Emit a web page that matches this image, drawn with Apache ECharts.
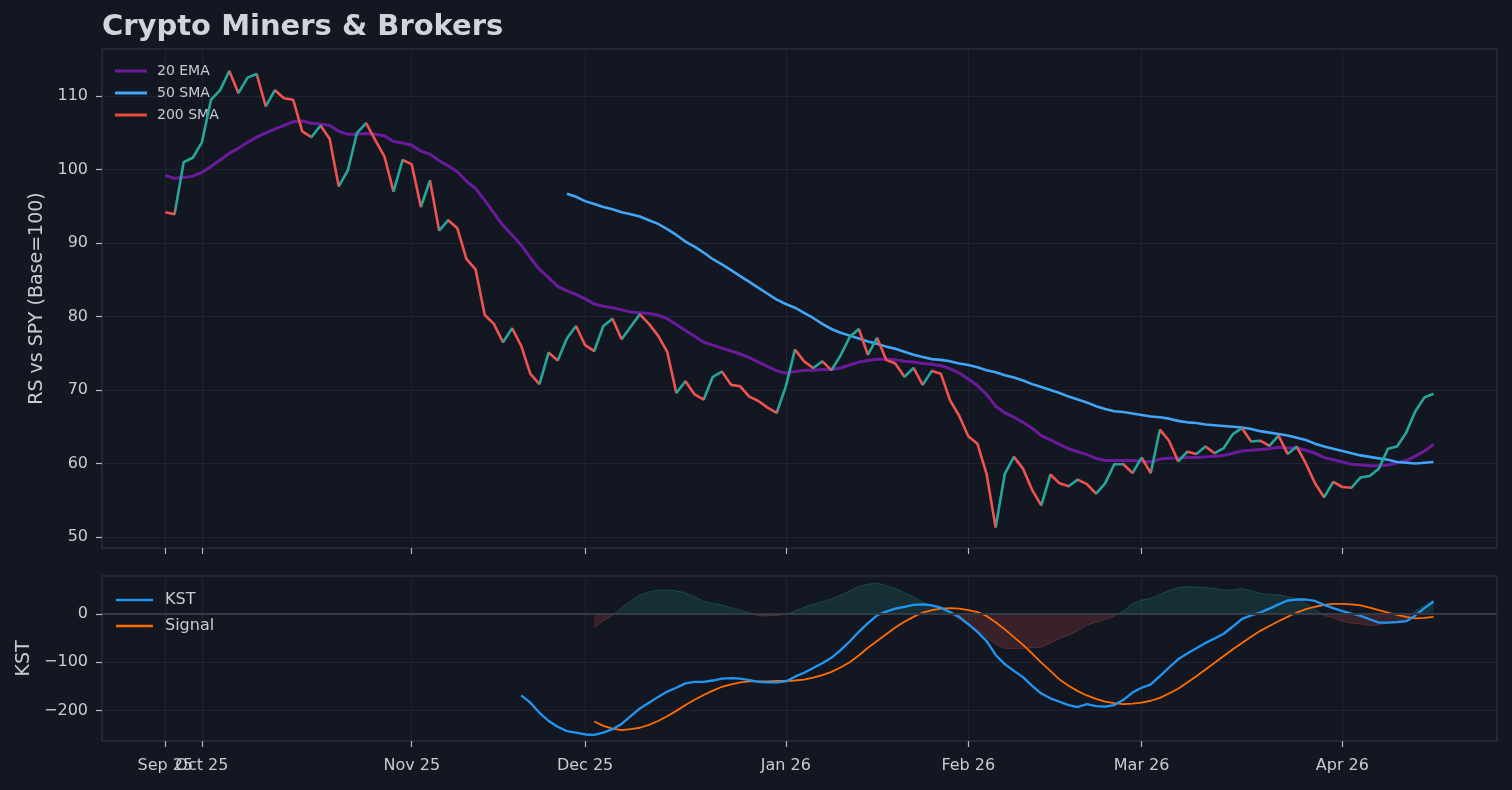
<!DOCTYPE html>
<html><head><meta charset="utf-8">
<script src="https://cdn.jsdelivr.net/npm/echarts@6/dist/echarts.min.js"></script>
<style>html,body{margin:0;padding:0;background:#131722;}#c{width:1512px;height:790px;}</style>
</head><body><div id="c"></div><script>
// Trading days (categories)
const dates = [
 '2025-09-25','2025-09-26','2025-09-29','2025-09-30',
 '2025-10-01','2025-10-02','2025-10-03','2025-10-06','2025-10-07','2025-10-08','2025-10-09','2025-10-10','2025-10-13','2025-10-14','2025-10-15','2025-10-16','2025-10-17','2025-10-20','2025-10-21','2025-10-22','2025-10-23','2025-10-24','2025-10-27','2025-10-28','2025-10-29','2025-10-30','2025-10-31',
 '2025-11-03','2025-11-04','2025-11-05','2025-11-06','2025-11-07','2025-11-10','2025-11-11','2025-11-12','2025-11-13','2025-11-14','2025-11-17','2025-11-18','2025-11-19','2025-11-20','2025-11-21','2025-11-24','2025-11-25','2025-11-26','2025-11-28',
 '2025-12-01','2025-12-02','2025-12-03','2025-12-04','2025-12-05','2025-12-08','2025-12-09','2025-12-10','2025-12-11','2025-12-12','2025-12-15','2025-12-16','2025-12-17','2025-12-18','2025-12-19','2025-12-22','2025-12-23','2025-12-24','2025-12-26','2025-12-29','2025-12-30','2025-12-31',
 '2026-01-02','2026-01-05','2026-01-06','2026-01-07','2026-01-08','2026-01-09','2026-01-12','2026-01-13','2026-01-14','2026-01-15','2026-01-16','2026-01-20','2026-01-21','2026-01-22','2026-01-23','2026-01-26','2026-01-27','2026-01-28','2026-01-29','2026-01-30',
 '2026-02-02','2026-02-03','2026-02-04','2026-02-05','2026-02-06','2026-02-09','2026-02-10','2026-02-11','2026-02-12','2026-02-13','2026-02-17','2026-02-18','2026-02-19','2026-02-20','2026-02-23','2026-02-24','2026-02-25','2026-02-26','2026-02-27',
 '2026-03-02','2026-03-03','2026-03-04','2026-03-05','2026-03-06','2026-03-09','2026-03-10','2026-03-11','2026-03-12','2026-03-13','2026-03-16','2026-03-17','2026-03-18','2026-03-19','2026-03-20','2026-03-23','2026-03-24','2026-03-25','2026-03-26','2026-03-27','2026-03-30','2026-03-31',
 '2026-04-01','2026-04-02','2026-04-06','2026-04-07','2026-04-08','2026-04-09','2026-04-10','2026-04-13','2026-04-14','2026-04-15','2026-04-16'
];
const tickIndex = [0, 4, 27, 46, 68, 88, 107, 129];
const tickLabels = ['Sep 25','Oct 25','Nov 25','Dec 25','Jan 26','Feb 26','Mar 26','Apr 26'];

// RS vs SPY (Base=100)
const price = [
 94.2,93.9,101.0,101.6,103.7,109.5,110.8,113.4,110.4,112.5,
 113.0,108.6,110.8,109.7,109.5,105.2,104.4,106.0,104.2,97.7,
 99.9,105.0,106.3,104.0,101.8,97.0,101.3,100.7,94.9,98.5,
 91.7,93.1,92.0,87.8,86.4,80.2,79.0,76.5,78.4,76.0,
 72.2,70.8,75.1,74.0,77.0,78.7,76.1,75.3,78.7,79.7,
 76.9,78.6,80.3,79.0,77.4,75.2,69.6,71.2,69.4,68.7,
 71.8,72.5,70.7,70.5,69.1,68.5,67.6,66.9,70.5,75.5,
 73.9,73.0,73.9,72.7,74.7,77.2,78.3,74.8,77.1,74.1,
 73.6,71.8,73.0,70.7,72.6,72.2,68.6,66.5,63.7,62.7,
 58.6,51.3,58.6,60.9,59.3,56.4,54.3,58.5,57.3,56.9,
 57.8,57.2,55.9,57.3,59.9,59.9,58.7,60.8,58.7,64.6,
 63.1,60.3,61.6,61.3,62.3,61.4,62.1,64.0,64.8,63.0,
 63.1,62.4,63.8,61.3,62.3,60.0,57.3,55.4,57.5,56.8,
 56.7,58.1,58.3,59.3,62.0,62.3,64.2,67.1,69.0,69.5
];
const ema20 = [
 99.2,98.8,98.9,99.1,99.6,100.4,101.3,102.2,102.9,103.7,
 104.4,105.0,105.5,106.0,106.5,106.6,106.3,106.2,106.0,105.2,
 104.8,104.8,104.9,104.8,104.6,103.8,103.6,103.3,102.5,102.1,
 101.2,100.5,99.7,98.4,97.4,95.8,94.1,92.4,91.1,89.7,
 88.0,86.4,85.3,84.1,83.5,83.0,82.4,81.7,81.4,81.2,
 80.9,80.6,80.5,80.4,80.2,79.7,78.9,78.1,77.3,76.5,
 76.1,75.7,75.3,74.9,74.4,73.8,73.2,72.6,72.3,72.5,
 72.7,72.7,72.8,72.8,73.0,73.4,73.8,74.0,74.2,74.2,
 74.1,73.9,73.8,73.6,73.5,73.3,72.9,72.3,71.5,70.6,
 69.4,67.8,66.9,66.3,65.6,64.8,63.8,63.2,62.6,62.0,
 61.6,61.2,60.7,60.4,60.4,60.4,60.4,60.3,60.2,60.6,
 60.7,60.7,60.8,60.8,60.9,61.0,61.1,61.4,61.7,61.8,
 61.9,62.0,62.2,62.1,62.1,61.8,61.4,60.8,60.5,60.2,
 59.9,59.8,59.7,59.7,59.8,60.1,60.4,61.0,61.7,62.6
];
const sma50Start = 44;
const sma50 = [
 96.7,96.3,95.7,95.3,94.9,94.6,94.2,93.9,93.6,93.1,
 92.6,91.9,91.1,90.2,89.5,88.7,87.8,87.1,86.3,85.5,
 84.7,83.9,83.1,82.3,81.7,81.2,80.5,79.8,79.0,78.3,
 77.8,77.4,77.0,76.6,76.3,75.9,75.6,75.2,74.8,74.5,
 74.2,74.1,73.9,73.6,73.4,73.1,72.7,72.4,72.0,71.7,
 71.3,70.8,70.4,70.0,69.6,69.1,68.7,68.3,67.8,67.4,
 67.1,67.0,66.8,66.6,66.4,66.3,66.1,65.8,65.6,65.5,
 65.3,65.2,65.1,65.0,64.9,64.7,64.4,64.2,64.0,63.8,
 63.5,63.2,62.7,62.3,62.0,61.7,61.4,61.1,60.9,60.7,
 60.5,60.2,60.1,60.0,60.1,60.2
];
const sma200 = []; // not enough history: legend entry only

// KST panel
const kstStart = 39;
const kst = [
 -169,-184,-205,-222,-234,-243,-246,-250,-251,-246,
 -239,-228,-212,-196,-184,-172,-161,-153,-144,-141,
 -141,-138,-134,-133,-134,-137,-141,-142,-142,-140,
 -130,-122,-112,-102,-91,-75,-57,-37,-19,-3,
 5,11,15,19,20,18,13,4,-6,-21,
 -37,-56,-85,-104,-118,-131,-149,-165,-175,-182,
 -189,-193,-187,-191,-192,-189,-178,-163,-153,-146,
 -129,-111,-94,-82,-71,-60,-51,-41,-26,-10,
 -3,3,11,20,28,30,30,27,19,12,
 6,1,-4,-11,-18,-18,-17,-15,-3,12,
 26
];
const signalStart = 47;
const signal = [
 -223,-232,-238,-241,-239,-236,-230,-222,-212,-201,
 -189,-178,-168,-159,-151,-146,-142,-140,-140,-140,
 -139,-139,-138,-136,-132,-127,-120,-111,-100,-86,
 -70,-56,-42,-28,-16,-6,3,8,11,12,
 11,8,4,-4,-17,-32,-48,-64,-82,-101,
 -118,-136,-149,-160,-169,-176,-182,-185,-187,-186,
 -184,-180,-174,-165,-155,-142,-129,-115,-101,-87,
 -73,-60,-47,-35,-25,-15,-6,3,10,15,
 19,21,21,20,18,13,8,3,-2,-6,
 -9,-8,-6
];
const histStart = 47;
const hist = [
 -28,-14,-3,13,27,39,46,50,50,48,
 44,36,27,22,19,13,8,3,-4,-4,
 -3,-1,6,14,20,26,31,39,48,57,
 62,64,59,53,44,36,25,18,10,1,
 -11,-23,-33,-48,-63,-71,-72,-71,-70,-69,
 -60,-51,-44,-35,-23,-17,-11,-4,6,22,
 29,32,41,48,55,57,56,55,53,50,
 50,53,48,43,41,40,36,32,22,10,
 -3,-8,-15,-19,-21,-24,-23,-18,-15,-10,
 6,18,29
];

// ---------- build ----------
const UP = '#26a69a', DOWN = '#ef5350';
const N = dates.length;
const pairs = (arr, start) => arr.map((v, i) => [i + (start || 0), v]);
const xMin = -0.05 * (N - 1), xMax = (N - 1) * 1.05;

const pricePieces = [];
for (let i = 0; i < N - 1; i++) {
  const p = { color: price[i + 1] >= price[i] ? UP : DOWN };
  p.gte = i;
  if (i === N - 2) p.lte = i + 1; else p.lt = i + 1;
  pricePieces.push(p);
}

const FONT = 'DejaVu Sans';
const TXT = '#c8cbd2';
const GRIDC = '#1f2330';
const minus = v => String(v).replace('-', '\u2212');
const tickLabelOf = v => { const k = tickIndex.indexOf(Math.round(v)); return k >= 0 ? tickLabels[k] : ''; };
// labels are split over two axes so the overlapping "Sep 25"/"Oct 25" pair both show
const labelsA = tickIndex.filter((v, k) => k % 2 === 0);
const labelsB = tickIndex.filter((v, k) => k % 2 === 1);

const xCommon = {
  type: 'value', min: xMin, max: xMax,
  axisLine: { show: false, onZero: false },
  axisTick: { show: true, length: 6, lineStyle: { color: '#b4b8c0', width: 1.2 }, customValues: tickIndex },
  splitLine: { show: true, lineStyle: { color: GRIDC, width: 1 } }
};
const xLabelStyle = { show: true, formatter: tickLabelOf, color: TXT, fontSize: 16, fontFamily: FONT, margin: 17,
  hideOverlap: false, showMinLabel: true, showMaxLabel: true };

const option = {
  animation: false,
  backgroundColor: '#131722',
  textStyle: { fontFamily: FONT },
  title: {
    text: 'Crypto Miners & Brokers', left: 97, top: 8,
    textStyle: { fontFamily: FONT, fontSize: 29, fontWeight: 'bold', color: '#d1d4dc' }
  },
  grid: [
    { left: 102, top: 49, width: 1395, height: 499, show: true, borderColor: '#2a2e39', borderWidth: 1.5, backgroundColor: 'transparent' },
    { left: 102, top: 576, width: 1395, height: 165, show: true, borderColor: '#2a2e39', borderWidth: 1.5, backgroundColor: 'transparent' }
  ],
  legend: [
    {
      data: ['20 EMA', '50 SMA', '200 SMA'], orient: 'vertical', left: 115, top: 64, padding: 0,
      itemWidth: 32, itemHeight: 3, itemGap: 8, icon: 'rect',
      textStyle: { color: TXT, fontSize: 14, fontFamily: FONT, padding: [0, 0, 0, 5] }
    },
    {
      data: ['KST', 'Signal'], orient: 'vertical', left: 116, top: 592, padding: 0,
      itemWidth: 37, itemHeight: 2.5, itemGap: 10, icon: 'rect',
      textStyle: { color: TXT, fontSize: 16, fontFamily: FONT, padding: [0, 0, 0, 7] }
    }
  ],
  visualMap: [
    { type: 'piecewise', show: false, seriesIndex: 0, dimension: 0, pieces: pricePieces },
    { type: 'piecewise', show: false, seriesIndex: 4, dimension: 1,
      pieces: [ { gte: -1000, lt: 0, color: DOWN }, { gte: 0, lte: 1000, color: UP } ] }
  ],
  xAxis: [
    Object.assign({}, xCommon, { gridIndex: 0, position: 'bottom', axisLabel: { show: false } }),
    Object.assign({}, xCommon, { gridIndex: 1, position: 'bottom', axisLabel: Object.assign({}, xLabelStyle, { customValues: labelsA }) }),
    { type: 'value', gridIndex: 1, position: 'bottom', offset: 0, min: xMin, max: xMax,
      axisLine: { show: false, onZero: false }, axisTick: { show: false }, splitLine: { show: false },
      axisLabel: Object.assign({}, xLabelStyle, { customValues: labelsB }) }
  ],
  yAxis: [
    {
      type: 'value', gridIndex: 0, min: 48.5, max: 116.4,
      name: 'RS vs SPY (Base=100)', nameLocation: 'middle', nameGap: 54, nameRotate: 90,
      nameTextStyle: { color: TXT, fontSize: 19, fontFamily: FONT },
      axisLine: { show: false, onZero: false },
      axisTick: { show: true, length: 6, lineStyle: { color: '#b4b8c0', width: 1.2 }, customValues: [50, 60, 70, 80, 90, 100, 110] },
      axisLabel: { customValues: [50, 60, 70, 80, 90, 100, 110], color: TXT, fontSize: 16, fontFamily: FONT, margin: 14, formatter: minus },
      splitLine: { show: true, lineStyle: { color: GRIDC, width: 1 } }
    },
    {
      type: 'value', gridIndex: 1, min: -263.5, max: 78.8,
      name: 'KST', nameLocation: 'middle', nameGap: 64, nameRotate: 90,
      nameTextStyle: { color: TXT, fontSize: 19, fontFamily: FONT },
      axisLine: { show: false, onZero: false },
      axisTick: { show: true, length: 6, lineStyle: { color: '#b4b8c0', width: 1.2 }, customValues: [-200, -100, 0] },
      axisLabel: { customValues: [-200, -100, 0], color: TXT, fontSize: 16, fontFamily: FONT, margin: 14, formatter: minus },
      splitLine: { show: true, lineStyle: { color: GRIDC, width: 1 } }
    }
  ],
  series: [
    { name: 'RS', type: 'line', xAxisIndex: 0, yAxisIndex: 0, data: pairs(price), showSymbol: false,
      lineStyle: { width: 2.6 }, z: 4 },
    { name: '20 EMA', type: 'line', xAxisIndex: 0, yAxisIndex: 0, data: pairs(ema20), showSymbol: false,
      color: '#6a1b9a', lineStyle: { width: 3, color: '#6a1b9a' }, z: 3 },
    { name: '50 SMA', type: 'line', xAxisIndex: 0, yAxisIndex: 0, data: pairs(sma50, sma50Start), showSymbol: false,
      color: '#42a5f5', lineStyle: { width: 2.6, color: '#42a5f5' }, z: 3 },
    { name: '200 SMA', type: 'line', xAxisIndex: 0, yAxisIndex: 0, data: pairs(sma200), showSymbol: false,
      color: '#e74c3c', lineStyle: { width: 2.6, color: '#e74c3c' }, z: 3 },
    { name: 'KST hist', type: 'line', xAxisIndex: 1, yAxisIndex: 1, data: pairs(hist, histStart), showSymbol: false,
      lineStyle: { width: 1, opacity: 0.25 }, areaStyle: { opacity: 0.17, origin: 0 }, z: 1,
      markLine: { silent: true, symbol: 'none', label: { show: false },
        lineStyle: { color: '#363a45', width: 1.8, type: 'solid' }, data: [ { yAxis: 0 } ] } },
    { name: 'KST', type: 'line', xAxisIndex: 1, yAxisIndex: 1, data: pairs(kst, kstStart), showSymbol: false,
      color: '#2196f3', lineStyle: { width: 2.3, color: '#2196f3' }, z: 4 },
    { name: 'Signal', type: 'line', xAxisIndex: 1, yAxisIndex: 1, data: pairs(signal, signalStart), showSymbol: false,
      color: '#ff6d00', lineStyle: { width: 1.8, color: '#ff6d00' }, z: 3 }
  ]
};

const chart = echarts.init(document.getElementById('c'), null, { renderer: 'canvas' });
chart.setOption(option);
</script></body></html>
